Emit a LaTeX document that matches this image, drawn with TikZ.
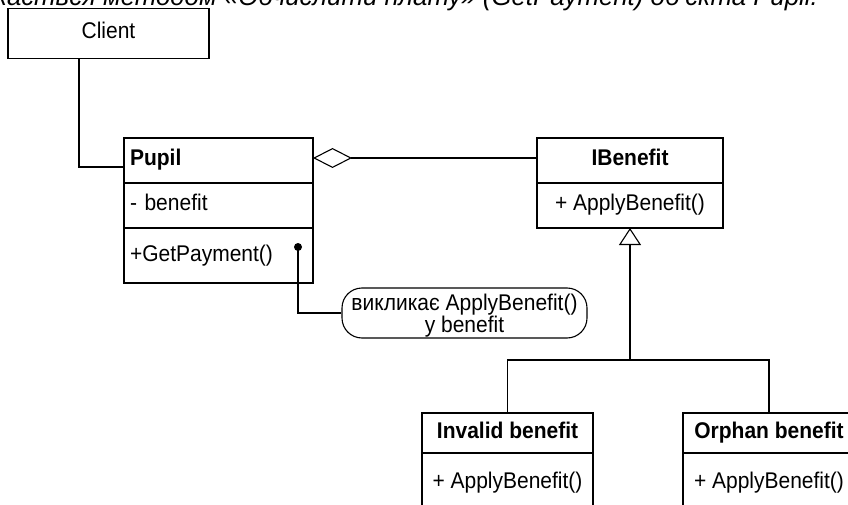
\documentclass[tikz,border=0pt]{standalone}
\usepackage{fontspec}
\setmainfont{Liberation Sans}
\newfontfamily\umlfam[FakeStretch=0.925]{Liberation Sans}
\usetikzlibrary{arrows.meta}
\newcommand\umlfont{\umlfam\fontsize{22.7}{22}\selectfont}
\begin{document}
\begin{tikzpicture}[x=1pt,y=-1pt,
  ln/.style={line width=1.1pt, draw=black},
  cls/.style={ln, rectangle, inner sep=0pt, outer sep=0pt, anchor=north west,
              font=\umlfont, text height=15pt, text depth=4pt},
  lcls/.style={cls, align=left, inner xsep=6pt},
  ccls/.style={cls, align=center},
  ttl/.style={font=\umlfont\bfseries},
  aggr/.style={ln, -{Diamond[open, length=39pt, width=20pt]}},
  inh/.style={ln, -{Triangle[open, length=17pt, width=22pt]}},
  notebox/.style={ln, rounded corners=20pt, inner sep=0pt, align=center, font=\umlfont},
  dotmark/.style={circle, fill=black, inner sep=0pt, minimum size=8pt}
]
\useasboundingbox (0,0) rectangle (848,505);
\fill[white] (0,0) rectangle (848,505);
\clip (0,0) rectangle (848,505);

% caption line (cut off at the top)
\node[anchor=base east, inner sep=0pt, font=\fontsize{25.8}{28}\selectfont\itshape] (cap) at (818,5.5)
  {викликається методом «Обчислити плату» (GetPayment) об’єкта Pupil.};

% Client
\node[ccls, minimum width=201pt, minimum height=50pt] (client) at (8,8.5) {Client};

% Pupil
\node[lcls, ttl, text width=177pt, minimum width=189pt, minimum height=45pt] (pupilT) at (124,138) {Pupil};
\node[lcls, text width=177pt, minimum width=189pt, minimum height=45pt] (pupilA) at (pupilT.south west) {- benefit};
\node[lcls, text width=177pt, minimum width=189pt, minimum height=55pt] (pupilM) at (pupilA.south west) {+GetPayment()};

% IBenefit
\node[ccls, ttl, minimum width=186pt, minimum height=45pt] (ibT) at (537,138) {IBenefit};
\node[ccls, minimum width=186pt, minimum height=45pt] (ibM) at (ibT.south west) {+ ApplyBenefit()};

% Invalid benefit
\node[ccls, ttl, minimum width=171pt, minimum height=40pt] (invT) at (422,413) {Invalid benefit};
\node[ccls, minimum width=171pt, minimum height=60pt] (invM) at (invT.south west) {+ ApplyBenefit()};

% Orphan benefit
\node[ccls, ttl, minimum width=172pt, minimum height=40pt] (orpT) at (683,413) {Orphan benefit};
\node[ccls, minimum width=172pt, minimum height=60pt] (orpM) at (orpT.south west) {+ ApplyBenefit()};

% note
\node[notebox, minimum width=245pt, minimum height=50pt] (note) at (464.5,313)
  {\rule{0pt}{21pt}викликає ApplyBenefit()\\у benefit};
\node[dotmark] (dot) at (298,247) {};

% connectors
\draw[ln] ([xshift=-29.5pt]client.south) |- ([yshift=-6.5pt]pupilT.west);
\draw[aggr] ([yshift=2.5pt]ibT.west) -- ([yshift=2.5pt]pupilT.east);
\draw[ln] (dot.center) |- (note.west);
\coordinate (j) at (630,360);
\draw[inh] (j) -- (ibM.south);
\draw[ln] (invT.north) |- (j) -| (orpT.north);
\end{tikzpicture}
\end{document}
